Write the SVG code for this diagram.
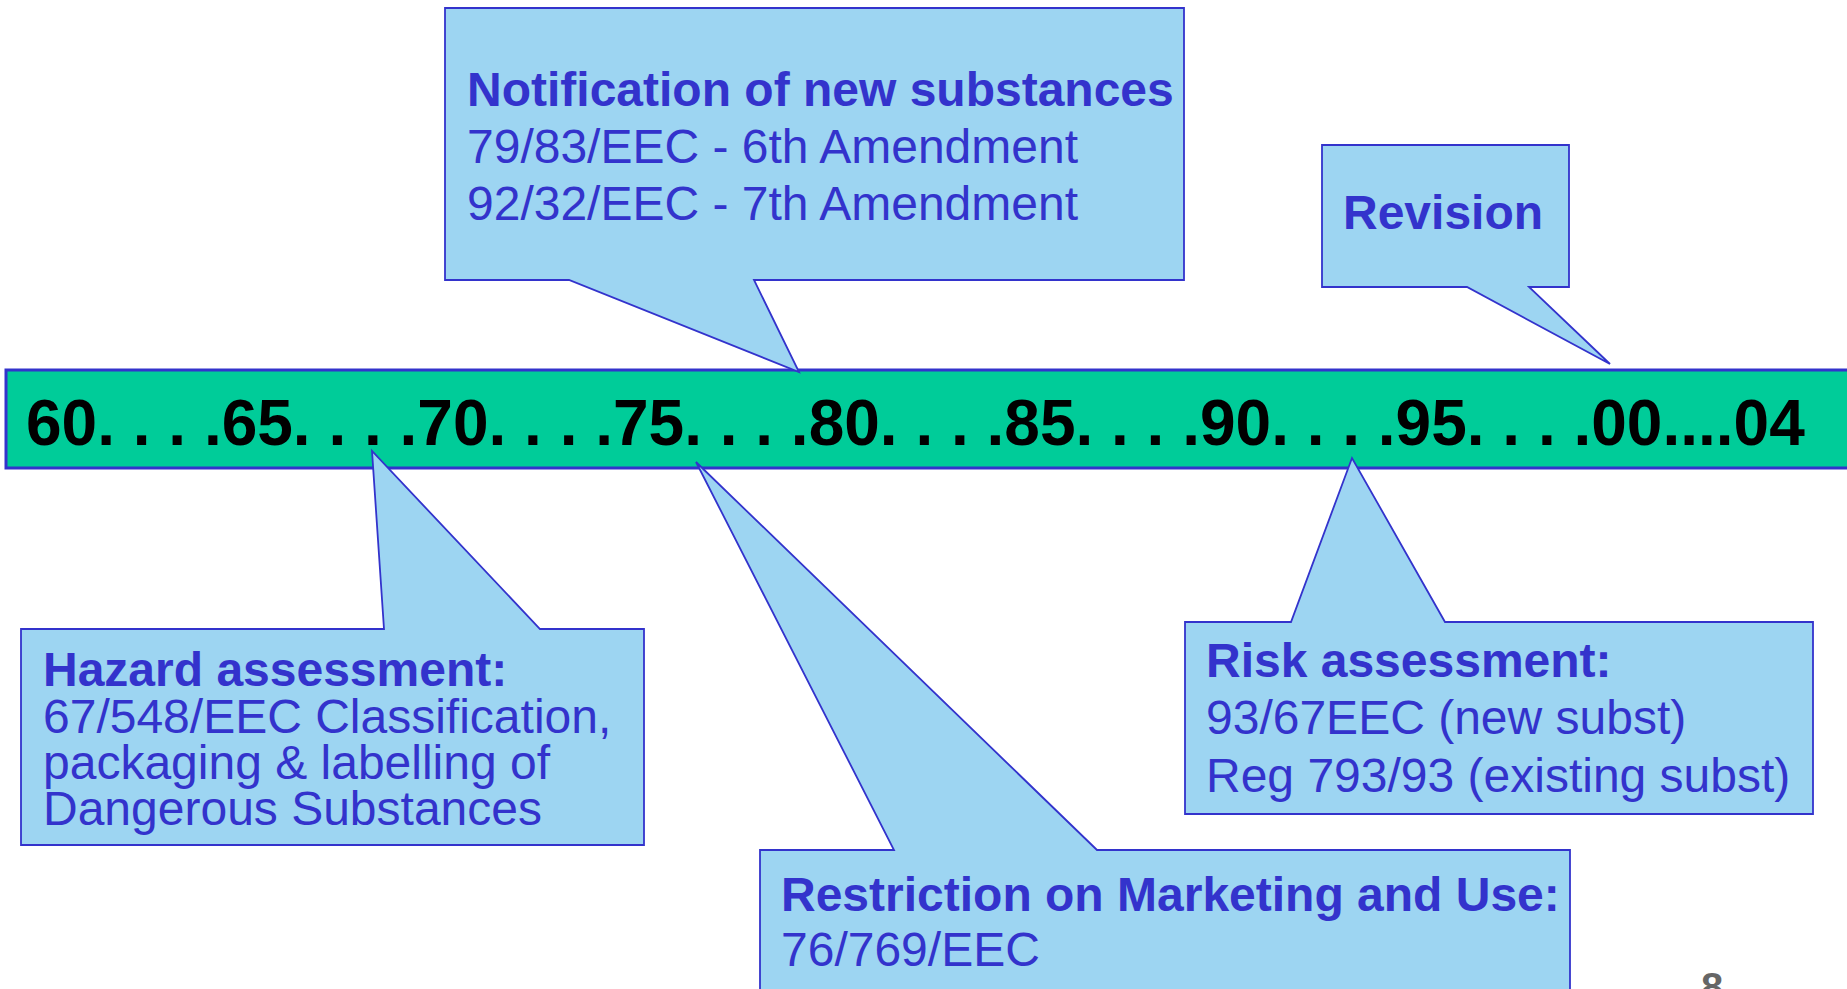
<svg xmlns="http://www.w3.org/2000/svg" width="1847" height="989" viewBox="0 0 1847 989">
  <style>
    .bubble { fill: #9dd5f2; stroke: #3333cc; stroke-width: 1.8; stroke-linejoin: miter; }
    .bar { fill: #00cc99; stroke: #3333cc; stroke-width: 3; }
    .scale { font-family: "Liberation Sans", Arial, sans-serif; font-weight: bold; font-size: 64px; fill: #000; }
    .head { font-family: "Liberation Sans", Arial, sans-serif; font-weight: bold; font-size: 48px; fill: #3333cc; }
    .body { font-family: "Liberation Sans", Arial, sans-serif; font-size: 48px; fill: #3333cc; }
    .page { font-family: "Liberation Sans", Arial, sans-serif; font-weight: bold; font-size: 40px; fill: #666666; }
  </style>

  <rect width="1847" height="989" fill="#ffffff"/>

  <!-- timeline bar -->
  <g id="timeline">
    <rect class="bar" x="6" y="370" width="1850" height="98"/>
    <text class="scale" x="26" y="445">60. . . .65. . . .70. . . .75. . . .80. . . .85. . . .90. . . .95. . . .00....04</text>
  </g>

  <!-- callout: notification -->
  <g id="notification">
    <path class="bubble" d="M445,8 H1184 V280 H754 L799,372 L569,280 H445 Z"/>
    <text class="head" x="467" y="106">Notification of new substances</text>
    <text class="body" x="467" y="163">79/83/EEC - 6th Amendment</text>
    <text class="body" x="467" y="220">92/32/EEC - 7th Amendment</text>
  </g>

  <!-- callout: revision -->
  <g id="revision">
    <path class="bubble" d="M1322,145 H1569 V287 H1529 L1610,364 L1467,287 H1322 Z"/>
    <text class="head" x="1343" y="229">Revision</text>
  </g>

  <!-- callout: hazard assessment -->
  <g id="hazard">
    <path class="bubble" d="M21,629 H384 L372,451 L540,629 H644 V845 H21 Z"/>
    <text class="head" x="43" y="686">Hazard assessment:</text>
    <text class="body" x="43" y="733">67/548/EEC Classification,</text>
    <text class="body" x="43" y="779">packaging &amp; labelling of</text>
    <text class="body" x="43" y="825">Dangerous Substances</text>
  </g>

  <!-- callout: risk assessment -->
  <g id="risk">
    <path class="bubble" d="M1185,622 H1291 L1352,458 L1445,622 H1813 V814 H1185 Z"/>
    <text class="head" x="1206" y="677">Risk assessment:</text>
    <text class="body" x="1206" y="734">93/67EEC (new subst)</text>
    <text class="body" x="1206" y="792">Reg 793/93 (existing subst)</text>
  </g>

  <!-- callout: restriction on marketing and use -->
  <g id="restriction">
    <path class="bubble" d="M760,850 H894 L696,462 L1097,850 H1570 V1000 H760 Z"/>
    <text class="head" x="781" y="911">Restriction on Marketing and Use:</text>
    <text class="body" x="781" y="966">76/769/EEC</text>
  </g>

  <!-- page number -->
  <g id="page-number">
    <text class="page" x="1701" y="1001">8</text>
  </g>
</svg>
